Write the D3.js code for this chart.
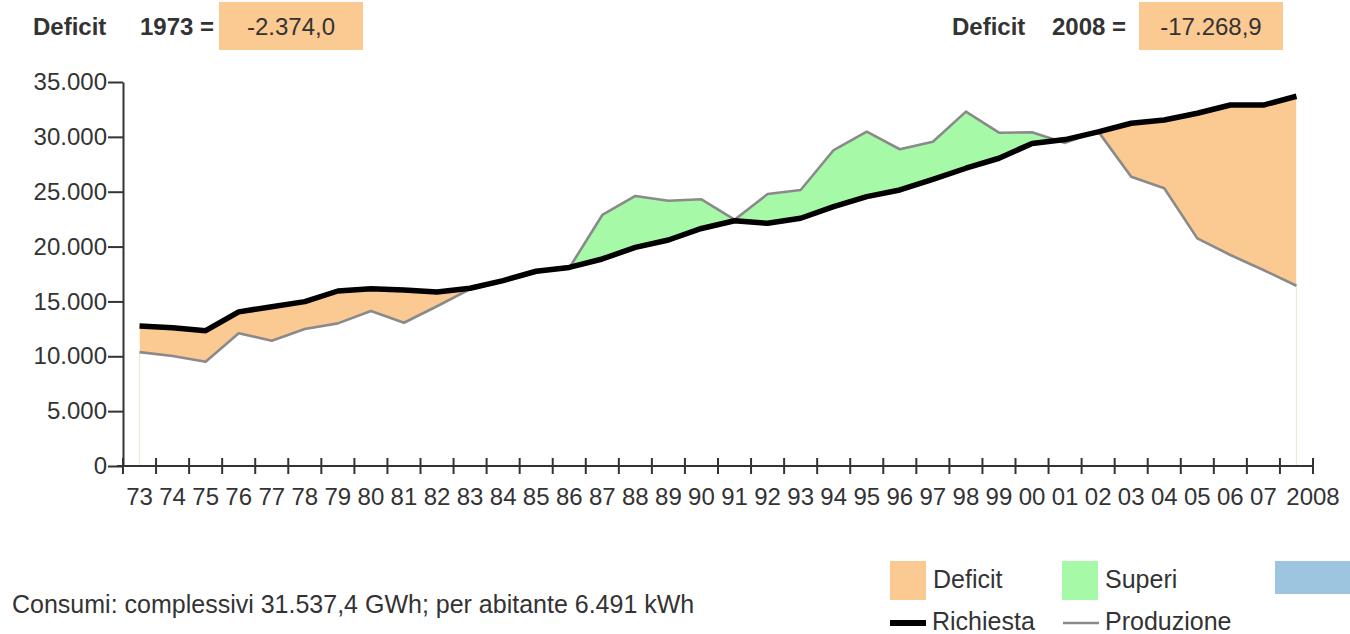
<!DOCTYPE html>
<html><head><meta charset="utf-8">
<script src="https://cdn.jsdelivr.net/npm/d3@7"></script>
<style>
body{margin:0;background:#fff;}
svg{display:block;font-family:"Liberation Sans",Arial,sans-serif;}
</style>
</head><body>
<svg id="c" width="1350" height="634"></svg>
<script>
// ---- data ----
const years = ["1973","1974","1975","1976","1977","1978","1979","1980","1981","1982","1983","1984",
  "1985","1986","1987","1988","1989","1990","1991","1992","1993","1994","1995","1996","1997","1998",
  "1999","2000","2001","2002","2003","2004","2005","2006","2007","2008"];
const tickLabels = ["73","74","75","76","77","78","79","80","81","82","83","84","85","86","87","88",
  "89","90","91","92","93","94","95","96","97","98","99","00","01","02","03","04","05","06","07","2008"];
const richiesta = [12750,12600,12330,14050,14520,14980,15950,16150,16050,15850,16200,16900,
  17750,18100,18870,19930,20600,21650,22350,22120,22580,23640,24550,25160,26130,27140,
  28050,29400,29750,30450,31240,31540,32150,32900,32900,33700];
const produzione = [10376,10030,9510,12100,11420,12490,13000,14130,13060,14560,16120,16800,
  17650,18050,22880,24610,24180,24310,22450,24790,25160,28800,30470,28870,29560,32300,
  30380,30420,29450,30500,26370,25310,20750,19230,17860,16431.1];
const yTicks = [0,5000,10000,15000,20000,25000,30000,35000];
const fillLabels = ["Deficit","Superi",""];
const lineLabels = ["Richiesta","Produzione"];
const consumiText = "Consumi: complessivi 31.537,4 GWh; per abitante 6.491 kWh";

// ---- setup ----
const it = d3.formatLocale({decimal:",", thousands:".", grouping:[3], currency:["€",""], minus:"-"});
const svg = d3.select("#c");
const C = {deficit:"#fbc992", superi:"#a6f9a6", blue:"#9dc5df", text:"#333", axis:"#333"};

const x = d3.scaleBand().domain(years).range([123,1313]).padding(0);
const cx = d => x(d) + x.bandwidth()/2;
const y = d3.scaleLinear().domain([0,35000]).range([466,82]);

const data = years.map((yr,i)=>({yr, r:richiesta[i], p:produzione[i]}));

// clip paths
const defs = svg.append("defs");
defs.append("clipPath").attr("id","above").append("path")
  .attr("d", d3.area().x(d=>cx(d.yr)).y0(0).y1(d=>y(d.r))(data));
defs.append("clipPath").attr("id","below").append("path")
  .attr("d", d3.area().x(d=>cx(d.yr)).y0(634).y1(d=>y(d.r))(data));

const between = d3.area().x(d=>cx(d.yr)).y0(d=>y(d.r)).y1(d=>y(d.p));
svg.append("path").attr("d", between(data)).attr("fill", C.superi).attr("clip-path","url(#above)");
svg.append("path").attr("d", between(data)).attr("fill", C.deficit).attr("clip-path","url(#below)");

// faint edge lines
const ends = [data[0], data[data.length-1]];
svg.selectAll("line.edge").data(ends).join("line").attr("class","edge")
  .attr("x1",d=>cx(d.yr)).attr("x2",d=>cx(d.yr))
  .attr("y1",d=>y(d.p)).attr("y2",y(0))
  .attr("stroke","#e3f0d2").attr("stroke-width",1.2);

// lines
svg.append("path").attr("d", d3.line().x(d=>cx(d.yr)).y(d=>y(d.p))(data))
  .attr("fill","none").attr("stroke","#8a8a8a").attr("stroke-width",2.6).attr("stroke-linejoin","round");
svg.append("path").attr("d", d3.line().x(d=>cx(d.yr)).y(d=>y(d.r))(data))
  .attr("fill","none").attr("stroke","#000").attr("stroke-width",5.5).attr("stroke-linejoin","round");

// y axis
const yAxis = svg.append("g").attr("transform","translate(123,0)")
  .call(d3.axisLeft(y).tickValues(yTicks).tickSize(15).tickSizeOuter(0).tickPadding(1).tickFormat(it.format(",d")));
yAxis.select(".domain").attr("stroke",C.axis).attr("stroke-width",2);
yAxis.selectAll(".tick line").attr("stroke",C.axis).attr("stroke-width",2);
yAxis.selectAll(".tick text").attr("fill",C.text).attr("font-size",24).attr("font-family","Liberation Sans, Arial, sans-serif");

// x axis
const xg = svg.append("g");
const [x0,x1] = x.range();
xg.append("line").attr("x1",x0-6).attr("x2",x1).attr("y1",y(0)).attr("y2",y(0))
  .attr("stroke",C.axis).attr("stroke-width",2);
const bounds = years.map(d=>x(d)).concat([x1]);
xg.selectAll("line.tk").data(bounds).join("line").attr("class","tk")
  .attr("x1",d=>d).attr("x2",d=>d).attr("y1",y(0)-8).attr("y2",y(0)+8)
  .attr("stroke",C.axis).attr("stroke-width",2);
xg.selectAll("text").data(years).join("text")
  .attr("x",(d,i)=> i===years.length-1 ? x1 : cx(d))
  .attr("y",y(0)+39).attr("text-anchor","middle")
  .attr("font-size",24).attr("fill",C.text)
  .text((d,i)=>tickLabels[i]);

// header
const fmt1 = it.format(",.1f");
const header = [
  {yr:years[0], v:produzione[0]-richiesta[0], xl:33, xy:140, bx:219},
  {yr:years[years.length-1], v:produzione[produzione.length-1]-richiesta[richiesta.length-1], xl:952, xy:1052, bx:1139}
];
header.forEach(h=>{
  svg.append("text").attr("x",h.xl).attr("y",35).attr("font-size",24).attr("font-weight","bold").attr("fill",C.text).text("Deficit");
  svg.append("text").attr("x",h.xy).attr("y",35).attr("font-size",24).attr("font-weight","bold").attr("fill",C.text).text(h.yr+" =");
  svg.append("rect").attr("x",h.bx).attr("y",2).attr("width",144).attr("height",48).attr("fill",C.deficit);
  svg.append("text").attr("x",h.bx+72).attr("y",35).attr("text-anchor","middle").attr("font-size",24).attr("fill",C.text).text(fmt1(h.v));
});

// footer
svg.append("text").attr("x",12).attr("y",613).attr("font-size",25).attr("fill",C.text).text(consumiText);

// legend
const fillColors = [C.deficit, C.superi, C.blue];
const fillX = [890, 1062, 1275];
fillLabels.forEach((l,i)=>{
  svg.append("rect").attr("x",fillX[i]).attr("y",561).attr("width", i===2?80:36).attr("height", i===2?33:39).attr("fill",fillColors[i]);
  if(l) svg.append("text").attr("x",fillX[i]+43).attr("y",588).attr("font-size",25).attr("fill",C.text).text(l);
});
const lineX = [890, 1063];
const lineStyles = [{c:"#000",w:6},{c:"#8a8a8a",w:2.6}];
lineLabels.forEach((l,i)=>{
  svg.append("line").attr("x1",lineX[i]).attr("x2",lineX[i]+36).attr("y1",623).attr("y2",623)
    .attr("stroke",lineStyles[i].c).attr("stroke-width",lineStyles[i].w);
  svg.append("text").attr("x",lineX[i]+42).attr("y",630).attr("font-size",25).attr("fill",C.text).text(l);
});
</script>
</body></html>
